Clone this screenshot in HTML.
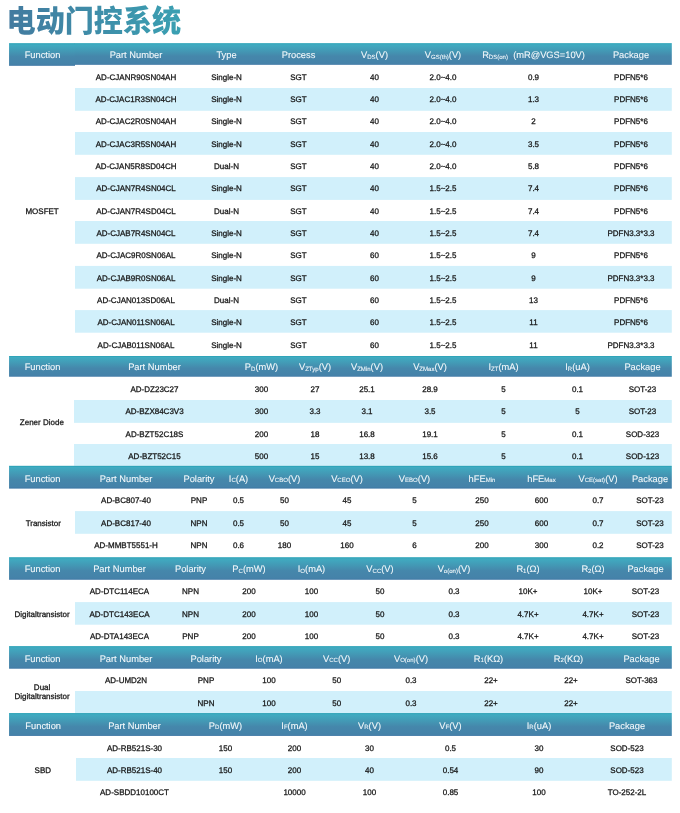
<!DOCTYPE html>
<html lang="zh"><head><meta charset="utf-8"><title>电动门控系统</title>
<style>html,body{margin:0;padding:0;background:#fff;}svg{display:block;}text{font-family:"Liberation Sans","Noto Sans CJK SC",sans-serif;text-rendering:geometricPrecision;}.h{fill:#f3f9fb;font-size:9.30px;stroke:#f3f9fb;stroke-width:.08px;}.d{fill:#151515;font-size:8.00px;stroke:#151515;stroke-width:.26px;}.t{font-family:"Liberation Sans","Noto Sans CJK SC",sans-serif;font-weight:900;font-size:30.8px;}</style></head><body>
<svg width="680" height="813" viewBox="0 0 680 813">
<defs><linearGradient id="hg" x1="0" y1="0" x2="0" y2="1"><stop offset="0" stop-color="#30a4b9"/><stop offset="0.04" stop-color="#30a4b9"/><stop offset="0.07" stop-color="#40abc1"/><stop offset="0.35" stop-color="#4399b5"/><stop offset="0.6" stop-color="#4587ab"/><stop offset="0.94" stop-color="#4582a9"/><stop offset="0.97" stop-color="#3b75a3"/><stop offset="1" stop-color="#3b75a3"/></linearGradient><linearGradient id="tg" x1="0" y1="0" x2="1" y2="0"><stop offset="0" stop-color="#437a9f"/><stop offset="1" stop-color="#3aa0b2"/></linearGradient></defs>
<rect width="680" height="813" fill="#fff"/>
<text class="t" x="6.6" y="32.0" fill="url(#tg)" textLength="174.5" lengthAdjust="spacingAndGlyphs">电动门控系统</text>
<rect x="9.05" y="43.15" width="65.95" height="22.65" fill="url(#hg)"/>
<rect x="74.70" y="43.15" width="597.10" height="21.65" fill="url(#hg)"/>
<text class="h" text-anchor="middle" x="42.50" y="57.87">Function</text>
<text class="h" text-anchor="middle" x="136.00" y="57.87">Part Number</text>
<text class="h" text-anchor="middle" x="226.50" y="57.87">Type</text>
<text class="h" text-anchor="middle" x="298.50" y="57.87">Process</text>
<text class="h" text-anchor="middle" x="374.50" y="57.87">V<tspan font-size="6.05" dy="1.10">DS</tspan><tspan dy="-1.10">(V)</tspan></text>
<text class="h" text-anchor="middle" x="443.00" y="57.87">V<tspan font-size="6.05" dy="1.10">GS(th)</tspan><tspan dy="-1.10">(V)</tspan></text>
<text class="h" text-anchor="middle" x="533.50" y="57.87">R<tspan font-size="6.05" dy="1.10">DS(on)</tspan><tspan dy="-1.10">  (mR@VGS=10V)</tspan></text>
<text class="h" text-anchor="middle" x="631.00" y="57.87">Package</text>
<text class="d" text-anchor="middle" x="42.10" y="213.74">MOSFET</text>
<text class="d" text-anchor="middle" x="136.00" y="79.70">AD-CJANR90SN04AH</text>
<text class="d" text-anchor="middle" x="226.50" y="79.70">Single-N</text>
<text class="d" text-anchor="middle" x="298.50" y="79.70">SGT</text>
<text class="d" text-anchor="middle" x="374.50" y="79.70">40</text>
<text class="d" text-anchor="middle" x="443.00" y="79.70">2.0~4.0</text>
<text class="d" text-anchor="middle" x="533.50" y="79.70">0.9</text>
<text class="d" text-anchor="middle" x="631.00" y="79.70">PDFN5*6</text>
<rect x="75.00" y="88.00" width="596.80" height="22.80" fill="#d1f0fb"/>
<text class="d" text-anchor="middle" x="136.00" y="101.90">AD-CJAC1R3SN04CH</text>
<text class="d" text-anchor="middle" x="226.50" y="101.90">Single-N</text>
<text class="d" text-anchor="middle" x="298.50" y="101.90">SGT</text>
<text class="d" text-anchor="middle" x="374.50" y="101.90">40</text>
<text class="d" text-anchor="middle" x="443.00" y="101.90">2.0~4.0</text>
<text class="d" text-anchor="middle" x="533.50" y="101.90">1.3</text>
<text class="d" text-anchor="middle" x="631.00" y="101.90">PDFN5*6</text>
<text class="d" text-anchor="middle" x="136.00" y="124.38">AD-CJAC2R0SN04AH</text>
<text class="d" text-anchor="middle" x="226.50" y="124.38">Single-N</text>
<text class="d" text-anchor="middle" x="298.50" y="124.38">SGT</text>
<text class="d" text-anchor="middle" x="374.50" y="124.38">40</text>
<text class="d" text-anchor="middle" x="443.00" y="124.38">2.0~4.0</text>
<text class="d" text-anchor="middle" x="533.50" y="124.38">2</text>
<text class="d" text-anchor="middle" x="631.00" y="124.38">PDFN5*6</text>
<rect x="75.00" y="132.00" width="596.80" height="22.80" fill="#d1f0fb"/>
<text class="d" text-anchor="middle" x="136.00" y="146.72">AD-CJAC3R5SN04AH</text>
<text class="d" text-anchor="middle" x="226.50" y="146.72">Single-N</text>
<text class="d" text-anchor="middle" x="298.50" y="146.72">SGT</text>
<text class="d" text-anchor="middle" x="374.50" y="146.72">40</text>
<text class="d" text-anchor="middle" x="443.00" y="146.72">2.0~4.0</text>
<text class="d" text-anchor="middle" x="533.50" y="146.72">3.5</text>
<text class="d" text-anchor="middle" x="631.00" y="146.72">PDFN5*6</text>
<text class="d" text-anchor="middle" x="136.00" y="168.80">AD-CJAN5R8SD04CH</text>
<text class="d" text-anchor="middle" x="226.50" y="168.80">Dual-N</text>
<text class="d" text-anchor="middle" x="298.50" y="168.80">SGT</text>
<text class="d" text-anchor="middle" x="374.50" y="168.80">40</text>
<text class="d" text-anchor="middle" x="443.00" y="168.80">2.0~4.0</text>
<text class="d" text-anchor="middle" x="533.50" y="168.80">5.8</text>
<text class="d" text-anchor="middle" x="631.00" y="168.80">PDFN5*6</text>
<rect x="75.00" y="177.10" width="596.80" height="22.80" fill="#d1f0fb"/>
<text class="d" text-anchor="middle" x="136.00" y="191.40">AD-CJAN7R4SN04CL</text>
<text class="d" text-anchor="middle" x="226.50" y="191.40">Single-N</text>
<text class="d" text-anchor="middle" x="298.50" y="191.40">SGT</text>
<text class="d" text-anchor="middle" x="374.50" y="191.40">40</text>
<text class="d" text-anchor="middle" x="443.00" y="191.40">1.5~2.5</text>
<text class="d" text-anchor="middle" x="533.50" y="191.40">7.4</text>
<text class="d" text-anchor="middle" x="631.00" y="191.40">PDFN5*6</text>
<text class="d" text-anchor="middle" x="136.00" y="213.74">AD-CJAN7R4SD04CL</text>
<text class="d" text-anchor="middle" x="226.50" y="213.74">Dual-N</text>
<text class="d" text-anchor="middle" x="298.50" y="213.74">SGT</text>
<text class="d" text-anchor="middle" x="374.50" y="213.74">40</text>
<text class="d" text-anchor="middle" x="443.00" y="213.74">1.5~2.5</text>
<text class="d" text-anchor="middle" x="533.50" y="213.74">7.4</text>
<text class="d" text-anchor="middle" x="631.00" y="213.74">PDFN5*6</text>
<rect x="75.00" y="221.00" width="596.80" height="22.80" fill="#d1f0fb"/>
<text class="d" text-anchor="middle" x="136.00" y="236.08">AD-CJAB7R4SN04CL</text>
<text class="d" text-anchor="middle" x="226.50" y="236.08">Single-N</text>
<text class="d" text-anchor="middle" x="298.50" y="236.08">SGT</text>
<text class="d" text-anchor="middle" x="374.50" y="236.08">40</text>
<text class="d" text-anchor="middle" x="443.00" y="236.08">1.5~2.5</text>
<text class="d" text-anchor="middle" x="533.50" y="236.08">7.4</text>
<text class="d" text-anchor="middle" x="631.00" y="236.08">PDFN3.3*3.3</text>
<text class="d" text-anchor="middle" x="136.00" y="258.42">AD-CJAC9R0SN06AL</text>
<text class="d" text-anchor="middle" x="226.50" y="258.42">Single-N</text>
<text class="d" text-anchor="middle" x="298.50" y="258.42">SGT</text>
<text class="d" text-anchor="middle" x="374.50" y="258.42">60</text>
<text class="d" text-anchor="middle" x="443.00" y="258.42">1.5~2.5</text>
<text class="d" text-anchor="middle" x="533.50" y="258.42">9</text>
<text class="d" text-anchor="middle" x="631.00" y="258.42">PDFN5*6</text>
<rect x="75.00" y="265.90" width="596.80" height="22.80" fill="#d1f0fb"/>
<text class="d" text-anchor="middle" x="136.00" y="280.76">AD-CJAB9R0SN06AL</text>
<text class="d" text-anchor="middle" x="226.50" y="280.76">Single-N</text>
<text class="d" text-anchor="middle" x="298.50" y="280.76">SGT</text>
<text class="d" text-anchor="middle" x="374.50" y="280.76">60</text>
<text class="d" text-anchor="middle" x="443.00" y="280.76">1.5~2.5</text>
<text class="d" text-anchor="middle" x="533.50" y="280.76">9</text>
<text class="d" text-anchor="middle" x="631.00" y="280.76">PDFN3.3*3.3</text>
<text class="d" text-anchor="middle" x="136.00" y="303.10">AD-CJAN013SD06AL</text>
<text class="d" text-anchor="middle" x="226.50" y="303.10">Dual-N</text>
<text class="d" text-anchor="middle" x="298.50" y="303.10">SGT</text>
<text class="d" text-anchor="middle" x="374.50" y="303.10">60</text>
<text class="d" text-anchor="middle" x="443.00" y="303.10">1.5~2.5</text>
<text class="d" text-anchor="middle" x="533.50" y="303.10">13</text>
<text class="d" text-anchor="middle" x="631.00" y="303.10">PDFN5*6</text>
<rect x="75.00" y="310.10" width="596.80" height="22.60" fill="#d1f0fb"/>
<text class="d" text-anchor="middle" x="136.00" y="325.20">AD-CJAN011SN06AL</text>
<text class="d" text-anchor="middle" x="226.50" y="325.20">Single-N</text>
<text class="d" text-anchor="middle" x="298.50" y="325.20">SGT</text>
<text class="d" text-anchor="middle" x="374.50" y="325.20">60</text>
<text class="d" text-anchor="middle" x="443.00" y="325.20">1.5~2.5</text>
<text class="d" text-anchor="middle" x="533.50" y="325.20">11</text>
<text class="d" text-anchor="middle" x="631.00" y="325.20">PDFN5*6</text>
<text class="d" text-anchor="middle" x="136.00" y="347.78">AD-CJAB011SN06AL</text>
<text class="d" text-anchor="middle" x="226.50" y="347.78">Single-N</text>
<text class="d" text-anchor="middle" x="298.50" y="347.78">SGT</text>
<text class="d" text-anchor="middle" x="374.50" y="347.78">60</text>
<text class="d" text-anchor="middle" x="443.00" y="347.78">1.5~2.5</text>
<text class="d" text-anchor="middle" x="533.50" y="347.78">11</text>
<text class="d" text-anchor="middle" x="631.00" y="347.78">PDFN3.3*3.3</text>
<rect x="9.05" y="356.00" width="662.75" height="20.70" fill="url(#hg)"/>
<text class="h" text-anchor="middle" x="42.50" y="369.76">Function</text>
<text class="h" text-anchor="middle" x="154.50" y="369.76">Part Number</text>
<text class="h" text-anchor="middle" x="261.50" y="369.76">P<tspan font-size="6.05" dy="1.10">D</tspan><tspan dy="-1.10">(mW)</tspan></text>
<text class="h" text-anchor="middle" x="315.00" y="369.76">V<tspan font-size="6.05" dy="1.10">ZTyp</tspan><tspan dy="-1.10">(V)</tspan></text>
<text class="h" text-anchor="middle" x="367.00" y="369.76">V<tspan font-size="6.05" dy="1.10">ZMin</tspan><tspan dy="-1.10">(V)</tspan></text>
<text class="h" text-anchor="middle" x="430.00" y="369.76">V<tspan font-size="6.05" dy="1.10">ZMax</tspan><tspan dy="-1.10">(V)</tspan></text>
<text class="h" text-anchor="middle" x="503.50" y="369.76">I<tspan font-size="6.05" dy="1.10">ZT</tspan><tspan dy="-1.10">(mA)</tspan></text>
<text class="h" text-anchor="middle" x="577.50" y="369.76">I<tspan font-size="6.05" dy="1.10">R</tspan><tspan dy="-1.10">(uA)</tspan></text>
<text class="h" text-anchor="middle" x="642.50" y="369.76">Package</text>
<text class="d" text-anchor="middle" x="41.85" y="424.93">Zener Diode</text>
<text class="d" text-anchor="middle" x="154.50" y="391.85">AD-DZ23C27</text>
<text class="d" text-anchor="middle" x="261.50" y="391.85">300</text>
<text class="d" text-anchor="middle" x="315.00" y="391.85">27</text>
<text class="d" text-anchor="middle" x="367.00" y="391.85">25.1</text>
<text class="d" text-anchor="middle" x="430.00" y="391.85">28.9</text>
<text class="d" text-anchor="middle" x="503.50" y="391.85">5</text>
<text class="d" text-anchor="middle" x="577.50" y="391.85">0.1</text>
<text class="d" text-anchor="middle" x="642.50" y="391.85">SOT-23</text>
<rect x="74.00" y="400.00" width="597.80" height="22.85" fill="#d1f0fb"/>
<text class="d" text-anchor="middle" x="154.50" y="413.80">AD-BZX84C3V3</text>
<text class="d" text-anchor="middle" x="261.50" y="413.80">300</text>
<text class="d" text-anchor="middle" x="315.00" y="413.80">3.3</text>
<text class="d" text-anchor="middle" x="367.00" y="413.80">3.1</text>
<text class="d" text-anchor="middle" x="430.00" y="413.80">3.5</text>
<text class="d" text-anchor="middle" x="503.50" y="413.80">5</text>
<text class="d" text-anchor="middle" x="577.50" y="413.80">5</text>
<text class="d" text-anchor="middle" x="642.50" y="413.80">SOT-23</text>
<text class="d" text-anchor="middle" x="154.50" y="437.00">AD-BZT52C18S</text>
<text class="d" text-anchor="middle" x="261.50" y="437.00">200</text>
<text class="d" text-anchor="middle" x="315.00" y="437.00">18</text>
<text class="d" text-anchor="middle" x="367.00" y="437.00">16.8</text>
<text class="d" text-anchor="middle" x="430.00" y="437.00">19.1</text>
<text class="d" text-anchor="middle" x="503.50" y="437.00">5</text>
<text class="d" text-anchor="middle" x="577.50" y="437.00">0.1</text>
<text class="d" text-anchor="middle" x="642.50" y="437.00">SOD-323</text>
<rect x="74.00" y="444.00" width="597.80" height="21.80" fill="#d1f0fb"/>
<text class="d" text-anchor="middle" x="154.50" y="458.85">AD-BZT52C15</text>
<text class="d" text-anchor="middle" x="261.50" y="458.85">500</text>
<text class="d" text-anchor="middle" x="315.00" y="458.85">15</text>
<text class="d" text-anchor="middle" x="367.00" y="458.85">13.8</text>
<text class="d" text-anchor="middle" x="430.00" y="458.85">15.6</text>
<text class="d" text-anchor="middle" x="503.50" y="458.85">5</text>
<text class="d" text-anchor="middle" x="577.50" y="458.85">0.1</text>
<text class="d" text-anchor="middle" x="642.50" y="458.85">SOD-123</text>
<rect x="9.05" y="465.80" width="662.75" height="22.80" fill="url(#hg)"/>
<text class="h" text-anchor="middle" x="42.50" y="481.75">Function</text>
<text class="h" text-anchor="middle" x="126.00" y="481.75">Part Number</text>
<text class="h" text-anchor="middle" x="199.00" y="481.75">Polarity</text>
<text class="h" text-anchor="middle" x="238.50" y="481.75">I<tspan font-size="6.05">C</tspan>(A)</text>
<text class="h" text-anchor="middle" x="284.50" y="481.75">V<tspan font-size="6.05">CBO</tspan>(V)</text>
<text class="h" text-anchor="middle" x="347.00" y="481.75">V<tspan font-size="6.05">CEO</tspan>(V)</text>
<text class="h" text-anchor="middle" x="414.50" y="481.75">V<tspan font-size="6.05">EBO</tspan>(V)</text>
<text class="h" text-anchor="middle" x="482.00" y="481.75">hFE<tspan font-size="6.05">Min</tspan></text>
<text class="h" text-anchor="middle" x="541.50" y="481.75">hFE<tspan font-size="6.05">Max</tspan></text>
<text class="h" text-anchor="middle" x="598.00" y="481.75">V<tspan font-size="6.05">CE(sat)</tspan>(V)</text>
<text class="h" text-anchor="middle" x="650.00" y="481.75">Package</text>
<text class="d" text-anchor="middle" x="43.30" y="525.80">Transistor</text>
<text class="d" text-anchor="middle" x="126.00" y="502.87">AD-BC807-40</text>
<text class="d" text-anchor="middle" x="199.00" y="502.87">PNP</text>
<text class="d" text-anchor="middle" x="238.50" y="502.87">0.5</text>
<text class="d" text-anchor="middle" x="284.50" y="502.87">50</text>
<text class="d" text-anchor="middle" x="347.00" y="502.87">45</text>
<text class="d" text-anchor="middle" x="414.50" y="502.87">5</text>
<text class="d" text-anchor="middle" x="482.00" y="502.87">250</text>
<text class="d" text-anchor="middle" x="541.50" y="502.87">600</text>
<text class="d" text-anchor="middle" x="598.00" y="502.87">0.7</text>
<text class="d" text-anchor="middle" x="650.00" y="502.87">SOT-23</text>
<rect x="75.00" y="511.10" width="596.80" height="22.70" fill="#d1f0fb"/>
<text class="d" text-anchor="middle" x="126.00" y="525.80">AD-BC817-40</text>
<text class="d" text-anchor="middle" x="199.00" y="525.80">NPN</text>
<text class="d" text-anchor="middle" x="238.50" y="525.80">0.5</text>
<text class="d" text-anchor="middle" x="284.50" y="525.80">50</text>
<text class="d" text-anchor="middle" x="347.00" y="525.80">45</text>
<text class="d" text-anchor="middle" x="414.50" y="525.80">5</text>
<text class="d" text-anchor="middle" x="482.00" y="525.80">250</text>
<text class="d" text-anchor="middle" x="541.50" y="525.80">600</text>
<text class="d" text-anchor="middle" x="598.00" y="525.80">0.7</text>
<text class="d" text-anchor="middle" x="650.00" y="525.80">SOT-23</text>
<text class="d" text-anchor="middle" x="126.00" y="547.50">AD-MMBT5551-H</text>
<text class="d" text-anchor="middle" x="199.00" y="547.50">NPN</text>
<text class="d" text-anchor="middle" x="238.50" y="547.50">0.6</text>
<text class="d" text-anchor="middle" x="284.50" y="547.50">180</text>
<text class="d" text-anchor="middle" x="347.00" y="547.50">160</text>
<text class="d" text-anchor="middle" x="414.50" y="547.50">6</text>
<text class="d" text-anchor="middle" x="482.00" y="547.50">200</text>
<text class="d" text-anchor="middle" x="541.50" y="547.50">300</text>
<text class="d" text-anchor="middle" x="598.00" y="547.50">0.2</text>
<text class="d" text-anchor="middle" x="650.00" y="547.50">SOT-23</text>
<rect x="9.05" y="557.20" width="662.75" height="22.55" fill="url(#hg)"/>
<text class="h" text-anchor="middle" x="42.50" y="571.87">Function</text>
<text class="h" text-anchor="middle" x="119.50" y="571.87">Part Number</text>
<text class="h" text-anchor="middle" x="190.50" y="571.87">Polarity</text>
<text class="h" text-anchor="middle" x="249.00" y="571.87">P<tspan font-size="6.05" dy="1.00">C</tspan><tspan dy="-1.00">(mW)</tspan></text>
<text class="h" text-anchor="middle" x="311.50" y="571.87">I<tspan font-size="6.05" dy="1.00">O</tspan><tspan dy="-1.00">(mA)</tspan></text>
<text class="h" text-anchor="middle" x="380.00" y="571.87">V<tspan font-size="6.05" dy="1.00">CC</tspan><tspan dy="-1.00">(V)</tspan></text>
<text class="h" text-anchor="middle" x="454.00" y="571.87">V<tspan font-size="6.05" dy="1.00">o(on)</tspan><tspan dy="-1.00">(V)</tspan></text>
<text class="h" text-anchor="middle" x="528.00" y="571.87">R<tspan font-size="6.05" dy="1.00">1</tspan><tspan dy="-1.00">(Ω)</tspan></text>
<text class="h" text-anchor="middle" x="593.00" y="571.87">R<tspan font-size="6.05" dy="1.00">2</tspan><tspan dy="-1.00">(Ω)</tspan></text>
<text class="h" text-anchor="middle" x="645.50" y="571.87">Package</text>
<text class="d" text-anchor="middle" x="42.10" y="616.94">Digitaltransistor</text>
<text class="d" text-anchor="middle" x="119.50" y="593.93">AD-DTC114ECA</text>
<text class="d" text-anchor="middle" x="190.50" y="593.93">NPN</text>
<text class="d" text-anchor="middle" x="249.00" y="593.93">200</text>
<text class="d" text-anchor="middle" x="311.50" y="593.93">100</text>
<text class="d" text-anchor="middle" x="380.00" y="593.93">50</text>
<text class="d" text-anchor="middle" x="454.00" y="593.93">0.3</text>
<text class="d" text-anchor="middle" x="528.00" y="593.93">10K+</text>
<text class="d" text-anchor="middle" x="593.00" y="593.93">10K+</text>
<text class="d" text-anchor="middle" x="645.50" y="593.93">SOT-23</text>
<rect x="75.00" y="602.10" width="596.80" height="22.60" fill="#d1f0fb"/>
<text class="d" text-anchor="middle" x="119.50" y="616.94">AD-DTC143ECA</text>
<text class="d" text-anchor="middle" x="190.50" y="616.94">NPN</text>
<text class="d" text-anchor="middle" x="249.00" y="616.94">200</text>
<text class="d" text-anchor="middle" x="311.50" y="616.94">100</text>
<text class="d" text-anchor="middle" x="380.00" y="616.94">50</text>
<text class="d" text-anchor="middle" x="454.00" y="616.94">0.3</text>
<text class="d" text-anchor="middle" x="528.00" y="616.94">4.7K+</text>
<text class="d" text-anchor="middle" x="593.00" y="616.94">4.7K+</text>
<text class="d" text-anchor="middle" x="645.50" y="616.94">SOT-23</text>
<text class="d" text-anchor="middle" x="119.50" y="638.90">AD-DTA143ECA</text>
<text class="d" text-anchor="middle" x="190.50" y="638.90">PNP</text>
<text class="d" text-anchor="middle" x="249.00" y="638.90">200</text>
<text class="d" text-anchor="middle" x="311.50" y="638.90">100</text>
<text class="d" text-anchor="middle" x="380.00" y="638.90">50</text>
<text class="d" text-anchor="middle" x="454.00" y="638.90">0.3</text>
<text class="d" text-anchor="middle" x="528.00" y="638.90">4.7K+</text>
<text class="d" text-anchor="middle" x="593.00" y="638.90">4.7K+</text>
<text class="d" text-anchor="middle" x="645.50" y="638.90">SOT-23</text>
<rect x="9.05" y="646.10" width="662.75" height="22.60" fill="url(#hg)"/>
<text class="h" text-anchor="middle" x="42.50" y="661.75">Function</text>
<text class="h" text-anchor="middle" x="126.00" y="661.75">Part Number</text>
<text class="h" text-anchor="middle" x="206.00" y="661.75">Polarity</text>
<text class="h" text-anchor="middle" x="269.00" y="661.75">I<tspan font-size="6.05">O</tspan>(mA)</text>
<text class="h" text-anchor="middle" x="336.70" y="661.75">V<tspan font-size="6.05">CC</tspan>(V)</text>
<text class="h" text-anchor="middle" x="411.00" y="661.75">V<tspan font-size="6.05">O(on)</tspan>(V)</text>
<text class="h" text-anchor="middle" x="488.50" y="661.75">R<tspan font-size="6.05">1</tspan>(KΩ)</text>
<text class="h" text-anchor="middle" x="568.50" y="661.75">R<tspan font-size="6.05">2</tspan>(KΩ)</text>
<text class="h" text-anchor="middle" x="641.50" y="661.75">Package</text>
<text class="d" text-anchor="middle" x="42.10" y="689.90">Dual</text>
<text class="d" text-anchor="middle" x="42.10" y="698.80">Digitaltransistor</text>
<text class="d" text-anchor="middle" x="126.00" y="683.07">AD-UMD2N</text>
<text class="d" text-anchor="middle" x="206.00" y="683.07">PNP</text>
<text class="d" text-anchor="middle" x="269.00" y="683.07">100</text>
<text class="d" text-anchor="middle" x="336.70" y="683.07">50</text>
<text class="d" text-anchor="middle" x="411.00" y="683.07">0.3</text>
<text class="d" text-anchor="middle" x="491.00" y="683.07">22+</text>
<text class="d" text-anchor="middle" x="571.00" y="683.07">22+</text>
<text class="d" text-anchor="middle" x="641.50" y="683.07">SOT-363</text>
<rect x="75.00" y="691.00" width="596.80" height="22.05" fill="#d1f0fb"/>
<text class="d" text-anchor="middle" x="206.00" y="706.10">NPN</text>
<text class="d" text-anchor="middle" x="269.00" y="706.10">100</text>
<text class="d" text-anchor="middle" x="336.70" y="706.10">50</text>
<text class="d" text-anchor="middle" x="411.00" y="706.10">0.3</text>
<text class="d" text-anchor="middle" x="491.00" y="706.10">22+</text>
<text class="d" text-anchor="middle" x="571.00" y="706.10">22+</text>
<rect x="9.05" y="713.05" width="662.75" height="22.85" fill="url(#hg)"/>
<text class="h" text-anchor="middle" x="43.20" y="728.75">Function</text>
<text class="h" text-anchor="middle" x="134.50" y="728.75">Part Number</text>
<text class="h" text-anchor="middle" x="225.50" y="728.75">P<tspan font-size="6.05">D</tspan>(mW)</text>
<text class="h" text-anchor="middle" x="294.50" y="728.75">I<tspan font-size="6.05">F</tspan>(mA)</text>
<text class="h" text-anchor="middle" x="369.50" y="728.75">V<tspan font-size="6.05">R</tspan>(V)</text>
<text class="h" text-anchor="middle" x="450.50" y="728.75">V<tspan font-size="6.05">F</tspan>(V)</text>
<text class="h" text-anchor="middle" x="539.00" y="728.75">I<tspan font-size="6.05">R</tspan>(uA)</text>
<text class="h" text-anchor="middle" x="627.00" y="728.75">Package</text>
<text class="d" text-anchor="middle" x="42.80" y="772.60">SBD</text>
<text class="d" text-anchor="middle" x="134.50" y="750.75">AD-RB521S-30</text>
<text class="d" text-anchor="middle" x="225.50" y="750.75">150</text>
<text class="d" text-anchor="middle" x="294.50" y="750.75">200</text>
<text class="d" text-anchor="middle" x="369.50" y="750.75">30</text>
<text class="d" text-anchor="middle" x="450.50" y="750.75">0.5</text>
<text class="d" text-anchor="middle" x="539.00" y="750.75">30</text>
<text class="d" text-anchor="middle" x="627.00" y="750.75">SOD-523</text>
<rect x="76.00" y="758.00" width="595.80" height="22.80" fill="#d1f0fb"/>
<text class="d" text-anchor="middle" x="134.50" y="772.60">AD-RB521S-40</text>
<text class="d" text-anchor="middle" x="225.50" y="772.60">150</text>
<text class="d" text-anchor="middle" x="294.50" y="772.60">200</text>
<text class="d" text-anchor="middle" x="369.50" y="772.60">40</text>
<text class="d" text-anchor="middle" x="450.50" y="772.60">0.54</text>
<text class="d" text-anchor="middle" x="539.00" y="772.60">90</text>
<text class="d" text-anchor="middle" x="627.00" y="772.60">SOD-523</text>
<text class="d" text-anchor="middle" x="134.50" y="794.50">AD-SBDD10100CT</text>
<text class="d" text-anchor="middle" x="294.50" y="794.50">10000</text>
<text class="d" text-anchor="middle" x="369.50" y="794.50">100</text>
<text class="d" text-anchor="middle" x="450.50" y="794.50">0.85</text>
<text class="d" text-anchor="middle" x="539.00" y="794.50">100</text>
<text class="d" text-anchor="middle" x="627.00" y="794.50">TO-252-2L</text>
</svg></body></html>
